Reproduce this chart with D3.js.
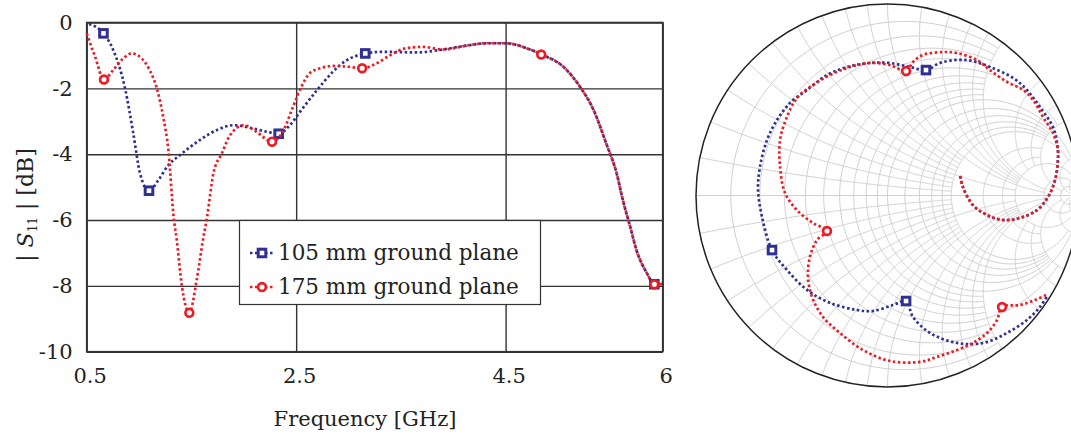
<!DOCTYPE html>
<html>
<head>
<meta charset="utf-8">
<script src="https://cdn.jsdelivr.net/npm/d3@7"></script>
<style>
  body { margin: 0; background: #fff; }
  svg { display: block; font-family: "DejaVu Serif", serif; }
</style>
</head>
<body>
<svg id="chart" width="1071" height="435"></svg>
<script>
// |S11| [dB] against frequency [GHz]
const freq105 = [0.5, 0.66, 0.754, 0.866, 0.945, 1.009, 1.095, 1.184, 1.28, 1.39, 1.58, 1.74, 1.9, 2.09, 2.22, 2.333, 2.44, 2.54, 2.7, 2.85, 2.92, 3.16, 3.33, 3.65, 3.9, 4.13, 4.32, 4.5, 4.7, 4.84, 5.05, 5.21, 5.34, 5.46, 5.56, 5.62, 5.69, 5.75, 5.85, 5.92, 5.99];
const s105 = [-0.02, -0.33, -0.84, -2.0, -3.37, -4.58, -5.11, -4.79, -4.33, -4.03, -3.57, -3.27, -3.12, -3.22, -3.32, -3.38, -3.12, -2.7, -2.05, -1.5, -1.29, -0.94, -0.89, -0.91, -0.82, -0.7, -0.63, -0.63, -0.78, -0.97, -1.34, -1.95, -2.66, -3.67, -4.58, -5.4, -6.21, -6.92, -7.62, -7.95, -7.95];
const mark105 = [1, 6, 15, 21, 39];

const freq175 = [0.5, 0.58, 0.665, 0.754, 0.85, 0.93, 1.025, 1.1, 1.17, 1.23, 1.28, 1.33, 1.36, 1.41, 1.48, 1.55, 1.61, 1.65, 1.71, 1.79, 1.87, 2.0, 2.12, 2.27, 2.38, 2.47, 2.55, 2.63, 2.73, 2.85, 2.98, 3.13, 3.27, 3.4, 3.55, 3.71, 3.9, 4.13, 4.32, 4.5, 4.7, 4.84, 5.05, 5.21, 5.34, 5.46, 5.56, 5.62, 5.69, 5.75, 5.85, 5.92, 5.99];
const s175 = [-0.33, -1.04, -1.73, -1.44, -1.09, -0.94, -1.09, -1.44, -2.0, -2.86, -3.88, -5.9, -6.61, -8.03, -8.82, -7.83, -6.61, -5.9, -4.58, -3.98, -3.42, -3.12, -3.32, -3.62, -3.27, -2.56, -1.95, -1.54, -1.39, -1.32, -1.34, -1.39, -1.24, -0.99, -0.78, -0.74, -0.82, -0.7, -0.63, -0.63, -0.78, -0.97, -1.34, -1.95, -2.66, -3.67, -4.58, -5.4, -6.21, -6.92, -7.62, -7.95, -7.95];
const mark175 = [2, 14, 23, 31, 41, 51];

const xTicks = [0.5, 2.5, 4.5, 6];
const yTicks = [0, -2, -4, -6, -8, -10];
const legendLabels = ['105 mm ground plane', '175 mm ground plane'];

// Smith chart traces, reflection coefficient (real, imaginary)
const gRe105 = [0.838, 0.796, 0.728, 0.624, 0.499, 0.363, 0.222, 0.133, 0.097, 0.029, -0.076, -0.159, -0.300, -0.420, -0.525, -0.603, -0.655, -0.676, -0.666, -0.629, -0.577, -0.509, -0.420, -0.316, -0.211, -0.091, 0.013, 0.117, 0.201, 0.274, 0.363, 0.446, 0.535, 0.655, 0.728, 0.796, 0.864, 0.885, 0.890, 0.875, 0.838, 0.781, 0.692, 0.603, 0.520, 0.446, 0.394, 0.379];
const gIm105 = [-0.520, -0.582, -0.650, -0.718, -0.770, -0.770, -0.718, -0.634, -0.551, -0.572, -0.603, -0.598, -0.561, -0.493, -0.389, -0.285, -0.112, 0.029, 0.149, 0.290, 0.394, 0.483, 0.551, 0.629, 0.671, 0.692, 0.692, 0.671, 0.655, 0.692, 0.708, 0.702, 0.671, 0.614, 0.551, 0.462, 0.358, 0.279, 0.185, 0.081, -0.008, -0.076, -0.117, -0.128, -0.102, -0.050, 0.044, 0.107];
const gMark105 = [8, 15, 28];

const gRe175 = [0.828, 0.770, 0.692, 0.598, 0.572, 0.520, 0.446, 0.363, 0.258, 0.170, 0.013, -0.128, -0.248, -0.337, -0.394, -0.415, -0.405, -0.368, -0.316, -0.389, -0.473, -0.535, -0.561, -0.561, -0.525, -0.473, -0.389, -0.300, -0.196, -0.091, 0.013, 0.097, 0.133, 0.185, 0.290, 0.363, 0.467, 0.535, 0.624, 0.708, 0.760, 0.812, 0.864, 0.890, 0.890, 0.875, 0.838, 0.781, 0.692, 0.603, 0.520, 0.446, 0.394, 0.379];
const gIm175 = [-0.520, -0.546, -0.572, -0.582, -0.650, -0.718, -0.770, -0.807, -0.843, -0.869, -0.864, -0.807, -0.718, -0.634, -0.530, -0.426, -0.321, -0.232, -0.185, -0.144, -0.076, 0.013, 0.149, 0.290, 0.410, 0.509, 0.577, 0.629, 0.671, 0.692, 0.681, 0.650, 0.697, 0.734, 0.749, 0.744, 0.708, 0.655, 0.593, 0.551, 0.499, 0.410, 0.326, 0.238, 0.185, 0.081, -0.008, -0.076, -0.117, -0.128, -0.102, -0.050, 0.044, 0.107];
const gMark175 = [3, 18, 31];

// Smith grid values (normalised r and x) and how far each line runs
const gridVals = [0.1, 0.2, 0.3, 0.4, 0.5, 0.6, 0.7, 0.8, 0.9, 1, 1.2, 1.4, 1.6, 1.8, 2, 3, 4, 5, 10, 20];
const gridReach = [2, 2, 2, 2, 5, 2, 2, 2, 2, 10, 5, 5, 5, 5, 10, 5, 5, 20, 40, 40];

const blue = '#2e3192';
const red = '#ed1c24';

const svg = d3.select('#chart');

// ---------- left chart ----------
const plot = { left: 86.7, right: 662.7, top: 22.5, bottom: 351.7 };
const x = d3.scaleLinear().domain([0.5, 6]).range([plot.left, plot.right]);
const y = d3.scaleLinear().domain([-10, 0]).range([plot.bottom, plot.top]);

const left = svg.append('g');

// grid + tick labels
left.append('g')
  .attr('transform', `translate(${plot.left},0)`)
  .call(d3.axisLeft(y).tickValues(yTicks).tickSize(-(plot.right - plot.left)).tickPadding(14).tickFormat(d => String(d)))
  .call(g => g.select('.domain').remove())
  .call(g => g.selectAll('line').attr('stroke', '#333').attr('stroke-width', 1.4))
  .call(g => g.selectAll('text').attr('font-size', 21).attr('font-family', '"DejaVu Serif", serif').attr('fill', '#222'));

left.append('g')
  .attr('transform', `translate(0,${plot.bottom})`)
  .call(d3.axisBottom(x).tickValues(xTicks).tickSize(-(plot.bottom - plot.top)).tickPadding(16).tickFormat(d => String(d)))
  .call(g => g.select('.domain').remove())
  .call(g => g.selectAll('line').attr('stroke', '#333').attr('stroke-width', 1.4))
  .call(g => g.selectAll('text').attr('font-size', 21).attr('dx', 3).attr('font-family', '"DejaVu Serif", serif').attr('fill', '#222'));

// plot frame
left.append('rect')
  .attr('x', plot.left).attr('y', plot.top)
  .attr('width', plot.right - plot.left).attr('height', plot.bottom - plot.top)
  .attr('fill', 'none').attr('stroke', '#333').attr('stroke-width', 1.6);

// axis titles
left.append('text')
  .attr('x', 365).attr('y', 426)
  .attr('text-anchor', 'middle').attr('font-size', 21).attr('fill', '#222')
  .text('Frequency [GHz]');

const yTitle = left.append('text')
  .attr('transform', 'translate(33,205) rotate(-90)')
  .attr('text-anchor', 'middle').attr('font-size', 22).attr('fill', '#222')
  .attr('xml:space', 'preserve');
yTitle.append('tspan').text('| ');
yTitle.append('tspan').attr('font-style', 'italic').text('S');
yTitle.append('tspan').attr('font-size', 12).attr('dy', 4).text('11');
yTitle.append('tspan').attr('dy', -4).text(' | [dB]');

// legend box
const legend = left.append('g');
legend.append('rect')
  .attr('x', 239.5).attr('y', 220.5).attr('width', 301).attr('height', 84)
  .attr('fill', '#fff').attr('stroke', '#333').attr('stroke-width', 1.2);

const lineGen = d3.line()
  .x(d => x(d[0]))
  .y(d => y(d[1]))
  .curve(d3.curveMonotoneX);

const squareMark = (g, px, py) => g.append('rect')
  .attr('x', px - 3.8).attr('y', py - 3.8).attr('width', 7.6).attr('height', 7.6)
  .attr('fill', '#fff').attr('stroke', blue).attr('stroke-width', 3);
const circleMark = (g, px, py) => g.append('circle')
  .attr('cx', px).attr('cy', py).attr('r', 3.9)
  .attr('fill', '#fff').attr('stroke', red).attr('stroke-width', 2.7);

const series = [
  { f: freq105, s: s105, m: mark105, color: blue, mark: squareMark, off: 2.5 },
  { f: freq175, s: s175, m: mark175, color: red, mark: circleMark, off: 0 }
];

series.forEach((sr, k) => {
  const pts = sr.f.map((f, i) => [f, sr.s[i]]);
  left.append('path')
    .attr('d', lineGen(pts))
    .attr('fill', 'none').attr('stroke', sr.color).attr('stroke-width', 2.7)
    .attr('stroke-dasharray', '2.5,2.5').attr('stroke-dashoffset', sr.off);
  sr.m.forEach(i => sr.mark(left, x(pts[i][0]), y(pts[i][1])));

  // legend entry
  const ly = 253 + k * 34;
  legend.append('line')
    .attr('x1', 250).attr('x2', 274).attr('y1', ly).attr('y2', ly)
    .attr('stroke', sr.color).attr('stroke-width', 2.7).attr('stroke-dasharray', '2.5,2.5');
  sr.mark(legend, 262, ly);
  legend.append('text')
    .attr('x', 278).attr('y', ly + 7)
    .attr('font-size', 21.5).attr('fill', '#222')
    .text(legendLabels[k]);
});

// ---------- Smith chart ----------
const cx = 887.5, cy = 195.5, R = 191.5;
const gx = d3.scaleLinear().domain([-1, 1]).range([cx - R, cx + R]);
const gy = d3.scaleLinear().domain([-1, 1]).range([cy + R, cy - R]);
const smithLine = d3.line().x(d => gx(d[0])).y(d => gy(d[1]));

// impedance z = r + jx  ->  reflection coefficient
const gamma = (r, xx) => {
  const den = (r + 1) * (r + 1) + xx * xx;
  return [(r * r - 1 + xx * xx) / den, 2 * xx / den];
};

const smith = svg.append('g');
const grid = smith.append('g')
  .attr('fill', 'none').attr('stroke', '#d0d0d0').attr('stroke-width', 1);

gridVals.forEach((v, k) => {
  const reach = gridReach[k];
  const n = 260;
  // constant resistance circle
  const ua = d3.range(n + 1).map(i => -Math.asinh(reach) + 2 * Math.asinh(reach) * i / n);
  grid.append('path').attr('d', smithLine(ua.map(u => gamma(v, Math.sinh(u)))));
  // constant reactance arcs, both signs
  const ub = d3.range(n + 1).map(i => Math.asinh(reach) * i / n);
  [1, -1].forEach(sg => {
    grid.append('path').attr('d', smithLine(ub.map(u => gamma(Math.sinh(u), sg * v))));
  });
});
grid.append('path').attr('d', smithLine([[-1, 0], [1, 0]]));

smith.append('circle')
  .attr('cx', gx(0)).attr('cy', gy(0)).attr('r', gx(1) - gx(0))
  .attr('fill', 'none').attr('stroke', '#222').attr('stroke-width', 1.5);

const traceGen = d3.line().x(d => gx(d[0])).y(d => gy(d[1])).curve(d3.curveCatmullRom.alpha(0.5));
const traces = [
  { re: gRe105, im: gIm105, m: gMark105, color: blue, mark: squareMark, off: 2.5 },
  { re: gRe175, im: gIm175, m: gMark175, color: red, mark: circleMark, off: 0 }
];
traces.forEach(t => {
  const pts = t.re.map((r, i) => [r, t.im[i]]);
  smith.append('path')
    .attr('d', traceGen(pts))
    .attr('fill', 'none').attr('stroke', t.color).attr('stroke-width', 2.7)
    .attr('stroke-dasharray', '2.5,2.5').attr('stroke-dashoffset', t.off);
  t.m.forEach(i => t.mark(smith, gx(pts[i][0]), gy(pts[i][1])));
});
</script>
</body>
</html>
